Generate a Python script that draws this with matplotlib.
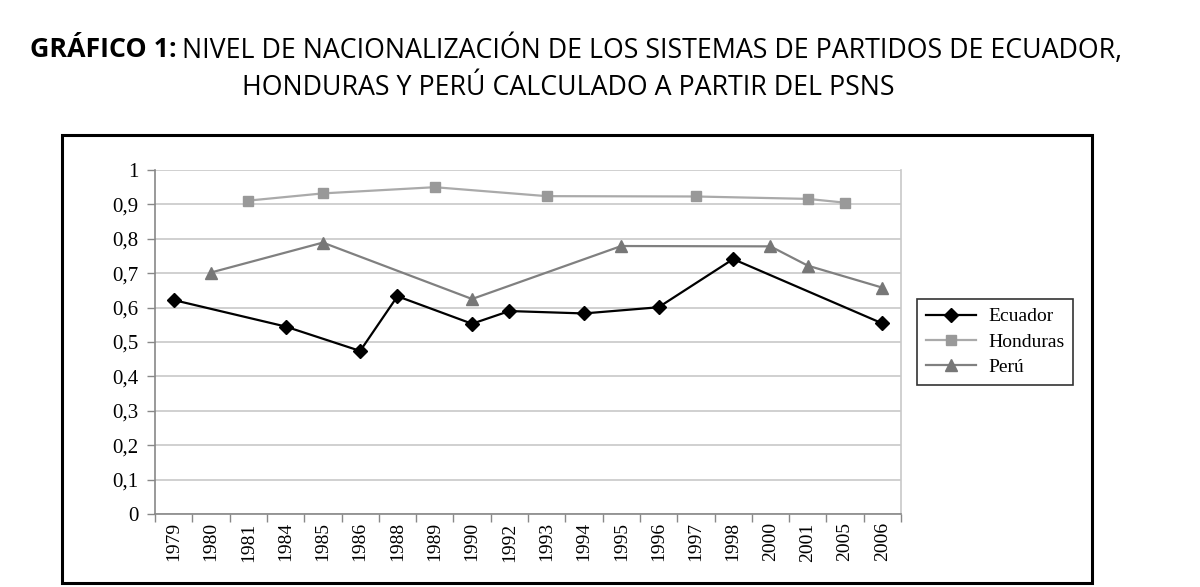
import numpy as np
import matplotlib
matplotlib.use("Agg")
import matplotlib.pyplot as plt
from matplotlib.patches import Rectangle

years = ["1979", "1980", "1981", "1984", "1985", "1986", "1988", "1989", "1990", "1992",
         "1993", "1994", "1995", "1996", "1997", "1998", "2000", "2001", "2005", "2006"]
ecuador = [0.622, None, None, 0.545, None, 0.474, 0.633, None, 0.553, 0.590,
           None, 0.583, None, 0.601, None, 0.741, None, None, None, 0.554]
honduras = [None, None, 0.911, None, 0.932, None, None, 0.950, None, None,
            0.924, None, None, None, 0.923, None, None, 0.916, 0.905, None]
peru = [None, 0.702, None, None, 0.789, None, None, None, 0.625, None,
        None, None, 0.779, None, None, None, 0.778, 0.722, None, 0.658]
yticks = [0, 0.1, 0.2, 0.3, 0.4, 0.5, 0.6, 0.7, 0.8, 0.9, 1]
ytick_labels = ["0", "0,1", "0,2", "0,3", "0,4", "0,5", "0,6", "0,7", "0,8", "0,9", "1"]

W, H = 1200, 587
fig = plt.figure(figsize=(W / 100, H / 100), dpi=100)
ax = fig.add_axes([155 / W, 1 - 514 / H, (901 - 155) / W, (514 - 170) / H])

serif = "Liberation Serif"

def plot_series(vals, color, lcolor, marker, ms, label):
    idx = [i for i, v in enumerate(vals) if v is not None]
    v = [vals[i] for i in idx]
    ax.plot(idx, v, color=lcolor, lw=1.6, marker=marker, ms=ms,
            markerfacecolor=color, markeredgecolor=color, label=label, zorder=3)

plot_series(ecuador, "black", "black", "D", 7, "Ecuador")
plot_series(honduras, "#999999", "#aaaaaa", "s", 7.5, "Honduras")
plot_series(peru, "#777777", "#808080", "^", 9, "Perú")

ax.set_xlim(-0.5, len(years) - 0.5)
ax.set_ylim(0, 1)
ax.set_yticks(yticks)
ax.set_yticklabels(ytick_labels, fontfamily=serif, fontsize=15)
ax.set_xticks(range(len(years)))
ax.set_xticklabels(years, rotation=90, fontfamily=serif, fontsize=14)
ax.tick_params(axis="x", which="major", length=0, pad=6)
ax.set_xticks(np.arange(-0.5, len(years)), minor=True)
ax.tick_params(axis="x", which="minor", length=6, color="#888888", width=1)
ax.tick_params(axis="y", length=6, color="#888888", width=1, pad=6)
ax.grid(axis="y", color="#c8c8c8", lw=1.2)
ax.set_axisbelow(True)
for s in ["left", "bottom", "right"]:
    ax.spines[s].set_color("#888888")
    ax.spines[s].set_linewidth(1.2)
ax.spines["right"].set_color("#c8c8c8")
ax.spines["top"].set_visible(False)

leg = ax.legend(loc="center left", bbox_to_anchor=(917 / W, 1 - 342 / H),
                bbox_transform=fig.transFigure, frameon=True, fancybox=False,
                prop={"family": serif, "size": 14}, handlelength=2.6,
                borderpad=0.45, labelspacing=0.4, handletextpad=0.6,
                borderaxespad=0)
leg.get_frame().set_edgecolor("black")
leg.get_frame().set_linewidth(1.2)

# outer frame
fig.patches.append(Rectangle((62 / W, 1 - 583 / H), (1092 - 62) / W, (583 - 135) / H,
                             transform=fig.transFigure, fill=False, edgecolor="black",
                             lw=2.2, zorder=0))

# title
tfont = "Open Sans"
fs = 19.3
fig.canvas.draw()
r = fig.canvas.get_renderer()
t1 = fig.text(30 / W, 1 - 50 / H, "GRÁFICO 1:", fontfamily=tfont, fontweight="bold",
              fontsize=fs, va="center", ha="left")
bb = t1.get_window_extent(renderer=r)
fig.text((bb.x1 + 5) / W, 1 - 50 / H,
         "NIVEL DE NACIONALIZACIÓN DE LOS SISTEMAS DE PARTIDOS DE ECUADOR,",
         fontfamily=tfont, fontsize=fs, va="center", ha="left")
fig.text(568 / W, 1 - 88 / H, "HONDURAS Y PERÚ CALCULADO A PARTIR DEL PSNS",
         fontfamily=tfont, fontsize=fs, va="center", ha="center")

fig.savefig("out.png", dpi=100)
